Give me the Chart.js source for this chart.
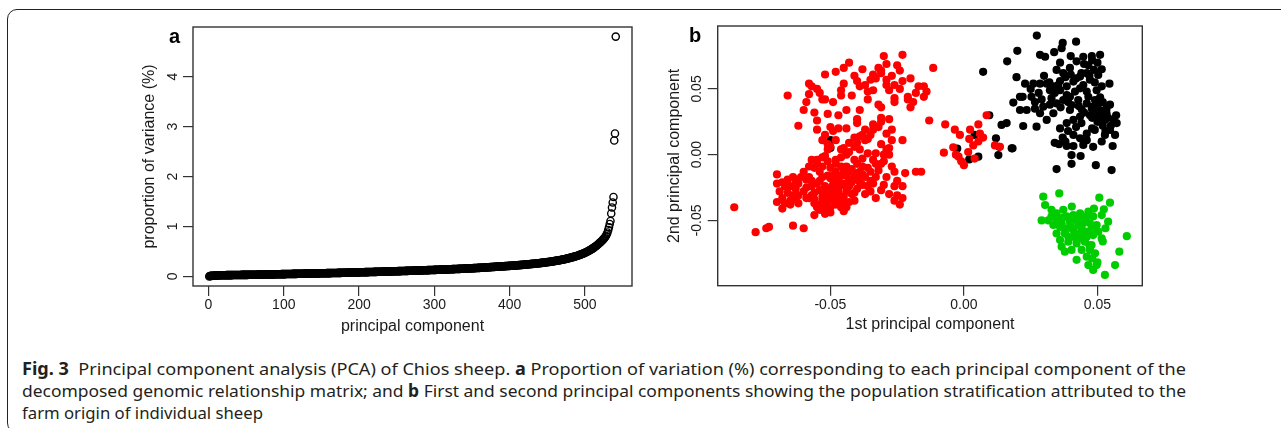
<!DOCTYPE html>
<html>
<head>
<meta charset="utf-8">
<script src="https://cdn.jsdelivr.net/npm/chart.js@4.4.1/dist/chart.umd.min.js"></script>
<style>
html,body{margin:0;padding:0;background:#fff;}
#wrap{position:relative;width:1281px;height:428px;overflow:hidden;background:#fff;}
#frame{position:absolute;left:7px;top:9px;width:1320px;height:424px;border:1.5px solid #222;border-radius:10px;box-sizing:border-box;}
canvas{position:absolute;top:0;}
#ca{left:0;}
#cb{left:640px;}
.plab{position:absolute;font-family:"Liberation Sans",Arial,sans-serif;font-weight:bold;font-size:20px;color:#000;line-height:20px;}
#caption{position:absolute;left:22px;top:358px;font-family:"Noto Sans",sans-serif;font-size:17px;color:#231f20;line-height:22px;}
.ln{white-space:nowrap;display:block;transform-origin:0 50%;width:max-content;}
</style>
</head>
<body>
<div id="wrap">
<div id="frame"></div>
<canvas id="ca" width="640" height="345"></canvas>
<canvas id="cb" width="520" height="345"></canvas>
<div class="plab" style="left:169px;top:26px;">a</div>
<div class="plab" style="left:689px;top:25px;">b</div>
<div id="caption">
<span class="ln" data-w="1164"><b>Fig. 3</b>&nbsp; Principal component analysis (PCA) of Chios sheep. <b>a</b> Proportion of variation (%) corresponding to each principal component of the</span>
<span class="ln" data-w="1164">decomposed genomic relationship matrix; and <b>b</b> First and second principal components showing the population stratification attributed to the</span>
<span class="ln" data-w="241">farm origin of individual sheep</span>
</div>
</div>
<script>
// ---------- Panel a: proportion of variance (%) per principal component ----------
const varianceProp = [
0.000,0.008,0.010,0.011,0.012,0.013,0.014,0.015,0.017,0.019,0.020,0.020,0.021,0.021,0.022,0.022,0.022,0.023,0.023,0.023,
0.024,0.024,0.024,0.025,0.025,0.025,0.025,0.026,0.026,0.026,0.026,0.027,0.027,0.027,0.027,0.028,0.028,0.028,0.028,0.029,
0.029,0.029,0.029,0.030,0.030,0.030,0.030,0.030,0.031,0.031,0.031,0.031,0.032,0.032,0.032,0.032,0.033,0.033,0.033,0.033,
0.034,0.034,0.034,0.034,0.035,0.035,0.035,0.035,0.036,0.036,0.036,0.036,0.037,0.037,0.037,0.038,0.038,0.038,0.039,0.039,
0.039,0.040,0.040,0.040,0.041,0.041,0.041,0.042,0.042,0.042,0.043,0.043,0.043,0.044,0.044,0.044,0.045,0.045,0.045,0.046,
0.046,0.046,0.047,0.047,0.047,0.048,0.048,0.048,0.049,0.049,0.049,0.050,0.050,0.050,0.051,0.051,0.051,0.052,0.052,0.052,
0.053,0.053,0.053,0.054,0.054,0.054,0.055,0.055,0.055,0.056,0.056,0.056,0.057,0.057,0.057,0.058,0.058,0.058,0.059,0.059,
0.059,0.060,0.060,0.060,0.061,0.061,0.061,0.062,0.062,0.062,0.063,0.063,0.063,0.064,0.064,0.064,0.065,0.065,0.065,0.066,
0.066,0.066,0.067,0.067,0.067,0.068,0.068,0.068,0.069,0.069,0.069,0.070,0.070,0.071,0.071,0.071,0.072,0.072,0.073,0.073,
0.073,0.074,0.074,0.075,0.075,0.075,0.076,0.076,0.077,0.077,0.077,0.078,0.078,0.079,0.079,0.080,0.080,0.080,0.081,0.081,
0.082,0.082,0.083,0.083,0.083,0.084,0.084,0.085,0.085,0.086,0.086,0.086,0.087,0.087,0.088,0.088,0.089,0.089,0.089,0.090,
0.090,0.091,0.091,0.092,0.092,0.092,0.093,0.093,0.094,0.094,0.095,0.095,0.096,0.096,0.096,0.097,0.097,0.098,0.098,0.099,
0.099,0.100,0.100,0.101,0.101,0.102,0.102,0.103,0.103,0.104,0.104,0.105,0.105,0.106,0.106,0.107,0.107,0.108,0.108,0.109,
0.109,0.110,0.110,0.111,0.111,0.112,0.112,0.113,0.113,0.114,0.114,0.115,0.115,0.116,0.116,0.117,0.117,0.118,0.118,0.119,
0.119,0.120,0.121,0.121,0.122,0.122,0.123,0.123,0.124,0.124,0.125,0.126,0.126,0.127,0.127,0.128,0.128,0.129,0.129,0.130,
0.131,0.131,0.132,0.132,0.133,0.134,0.134,0.135,0.135,0.136,0.137,0.137,0.138,0.138,0.139,0.140,0.140,0.141,0.141,0.142,
0.143,0.143,0.144,0.145,0.145,0.146,0.147,0.147,0.148,0.149,0.149,0.150,0.151,0.151,0.152,0.153,0.153,0.154,0.155,0.155,
0.156,0.157,0.158,0.158,0.159,0.160,0.161,0.161,0.162,0.163,0.164,0.165,0.165,0.166,0.167,0.168,0.169,0.170,0.170,0.171,
0.172,0.173,0.174,0.175,0.176,0.177,0.178,0.179,0.180,0.181,0.182,0.183,0.184,0.185,0.186,0.187,0.188,0.189,0.190,0.191,
0.192,0.193,0.194,0.195,0.196,0.197,0.198,0.199,0.200,0.201,0.202,0.203,0.204,0.205,0.206,0.207,0.208,0.209,0.210,0.211,
0.212,0.213,0.214,0.215,0.216,0.218,0.219,0.220,0.221,0.222,0.224,0.225,0.226,0.227,0.229,0.230,0.231,0.233,0.234,0.235,
0.237,0.238,0.239,0.241,0.242,0.244,0.245,0.247,0.248,0.250,0.251,0.253,0.254,0.256,0.258,0.259,0.261,0.263,0.264,0.266,
0.268,0.270,0.271,0.273,0.275,0.277,0.279,0.281,0.283,0.285,0.287,0.289,0.291,0.293,0.295,0.298,0.300,0.302,0.305,0.307,
0.310,0.312,0.315,0.317,0.320,0.323,0.326,0.329,0.332,0.335,0.338,0.341,0.344,0.348,0.351,0.355,0.358,0.362,0.366,0.370,
0.374,0.378,0.382,0.386,0.390,0.395,0.399,0.404,0.409,0.414,0.419,0.424,0.430,0.435,0.441,0.447,0.453,0.460,0.466,0.473,
0.480,0.487,0.495,0.503,0.511,0.519,0.528,0.537,0.546,0.556,0.566,0.576,0.587,0.598,0.610,0.622,0.635,0.648,0.662,0.676,
0.690,0.705,0.720,0.736,0.752,0.770,0.790,0.815,0.845,0.880,0.930,0.985,1.050,1.110,1.260,1.380,1.480,1.590,2.720,2.860,
4.800
];
const xTicksA = [0, 100, 200, 300, 400, 500];
const yTicksA = [0, 1, 2, 3, 4];

// ---------- Panel b: PC1 / PC2 per farm ----------
const farmRed = [
[-0.086,-0.040],[-0.078,-0.059],[-0.074,-0.056],[-0.073,-0.055],[-0.064,-0.054],[-0.060,-0.056],
[-0.066,0.045],[-0.062,0.022],[-0.060,0.034],[-0.059,0.040],[-0.058,0.054],[-0.057,0.052],[-0.056,0.032],[-0.054,0.047],
[-0.053,0.042],[-0.052,0.061],[-0.052,0.042],[-0.051,0.031],[-0.048,0.063],[-0.046,0.045],[-0.046,0.049],[-0.045,0.066],
[-0.043,0.070],[-0.044,0.034],[-0.040,0.056],[-0.039,0.052],[-0.042,0.045],[-0.040,0.024],[-0.037,0.053],[-0.035,0.057],
[-0.036,0.048],[-0.034,0.049],[-0.032,0.066],[-0.031,0.062],[-0.031,0.064],[-0.032,0.038],[-0.031,0.036],[-0.030,0.075],
[-0.029,0.057],[-0.029,0.053],[-0.028,0.049],[-0.026,0.043],[-0.026,0.040],[-0.025,0.068],[-0.023,0.076],[-0.023,0.056],
[-0.024,0.050],[-0.021,0.042],[-0.021,0.044],[-0.019,0.040],[-0.020,0.036],[-0.017,0.052],[-0.015,0.052],[-0.014,0.048],
[-0.015,0.044],[-0.0115,0.066],[-0.013,0.026],
[-0.027,0.011],[-0.028,0.005],[-0.027,0.019],[-0.029,0.016],[-0.023,0.011],[-0.031,0.028],[-0.031,0.025],[-0.032,0.021],
[-0.034,0.019],[-0.035,0.015],[-0.036,0.012],[-0.039,0.014],[-0.038,0.015],[-0.037,0.011],[-0.041,0.006],[-0.043,0.002],
[-0.044,0.000],[-0.047,0.020],[-0.049,0.018],[-0.052,0.015],[-0.050,0.021],[-0.055,0.019],[-0.053,0.011],[-0.051,0.008],
[-0.070,-0.015],[-0.070,-0.022],[-0.068,-0.021],[-0.069,-0.028],[-0.070,-0.036],[-0.068,-0.041],[-0.066,-0.019],[-0.065,-0.024],
[-0.064,-0.017],[-0.064,-0.031],[-0.065,-0.035],[-0.065,-0.038],[-0.066,-0.029],[-0.063,-0.026],[-0.062,-0.022],[-0.062,-0.031],
[-0.060,-0.013],[-0.059,-0.019],[-0.058,-0.017],[-0.058,-0.009],[-0.057,-0.004],[-0.056,-0.010],[-0.057,-0.024],[-0.056,-0.029],
[-0.058,-0.033],[-0.056,-0.037],[-0.055,-0.040],[-0.056,-0.046],[-0.054,-0.042],[-0.053,-0.038],[-0.052,-0.045],[-0.051,-0.042],
[-0.050,-0.040],[-0.051,-0.035],[-0.053,-0.032],[-0.054,-0.027],[-0.052,-0.024],[-0.050,-0.026],[-0.049,-0.027],[-0.047,-0.029],
[-0.048,-0.036],[-0.046,-0.034],[-0.045,-0.032],[-0.048,-0.021],[-0.046,-0.023],[-0.045,-0.022],[-0.043,-0.019],[-0.041,-0.017],
[-0.040,-0.014],[-0.043,-0.024],[-0.044,-0.028],[-0.046,-0.016],[-0.048,-0.013],[-0.050,-0.010],[-0.051,-0.016],[-0.053,-0.017],
[-0.055,-0.022],[-0.053,-0.009],[-0.055,-0.004],[-0.053,-0.002],[-0.051,0.004],[-0.050,0.006],[-0.048,0.011],[-0.045,0.005],
[-0.044,0.001],[-0.046,-0.002],[-0.048,-0.004],[-0.051,-0.005],[-0.041,-0.004],[-0.040,-0.007],[-0.038,-0.009],[-0.039,-0.013],
[-0.037,-0.017],[-0.035,-0.013],[-0.033,-0.007],[-0.033,-0.017],[-0.034,-0.022],[-0.035,-0.028],[-0.031,-0.027],[-0.030,-0.023],
[-0.029,-0.017],[-0.026,-0.013],[-0.026,-0.024],[-0.025,-0.031],[-0.026,-0.035],[-0.023,-0.033],[-0.023,-0.024],[-0.022,-0.014],
[-0.033,0.001],[-0.030,0.000],[-0.028,0.000],[-0.031,-0.007],[-0.036,0.001],[-0.038,-0.003],[-0.039,0.004],[-0.040,0.009],
[-0.044,-0.009],[-0.043,-0.013],[-0.046,-0.009],[-0.045,-0.013],[-0.049,-0.016],[-0.044,-0.040],[-0.045,-0.043],[-0.041,-0.029],
[-0.040,-0.026],[-0.038,-0.023],[-0.043,-0.036],[-0.018,-0.013],[-0.016,-0.013],
[-0.052,-0.030],[-0.050,-0.032],[-0.049,-0.034],[-0.047,-0.031],[-0.051,-0.028],[-0.053,-0.035],[-0.055,-0.038],[-0.048,-0.038],
[-0.046,-0.040],[-0.050,-0.044],[-0.053,-0.042],[-0.056,-0.034],[-0.049,-0.023],[-0.047,-0.019],[-0.044,-0.016],[-0.042,-0.021],
[-0.040,-0.019],[-0.038,-0.015],[-0.036,-0.010],[-0.034,-0.004],[-0.042,-0.011],[-0.048,-0.007],[-0.054,-0.013],[-0.057,-0.020],
[-0.060,-0.028],[-0.059,-0.033],[-0.062,-0.037],[-0.067,-0.024],[-0.068,-0.033],[-0.063,-0.020],[-0.037,-0.030],[-0.035,-0.020],
[-0.032,-0.012],[-0.030,-0.005],[-0.027,-0.009],[-0.029,0.004],[-0.031,0.008],[-0.025,-0.020],[-0.024,-0.038],[-0.028,-0.030],
[-0.033,-0.033],[-0.041,-0.035],[-0.055,-0.007],[-0.052,-0.001],[-0.046,0.004],[-0.043,0.009],[-0.041,0.013],[-0.037,0.019],
[-0.034,0.023],[-0.028,0.027],[-0.044,0.020],[-0.040,0.027],[-0.047,0.030],[-0.055,0.026],[-0.058,0.046],[-0.045,0.054],
[-0.041,0.060],[-0.038,0.065],[-0.034,0.061],[-0.027,0.060],[-0.024,0.064],[-0.020,0.058],[-0.018,0.047],[-0.036,0.042],
[-0.039,0.034],[-0.049,0.040],[-0.055,0.050],[-0.029,0.069],[-0.033,0.058],[-0.026,0.053],
[-0.054,-0.020],[-0.052,-0.036],[-0.049,-0.030],[-0.047,-0.026],[-0.045,-0.037],[-0.051,-0.038],[-0.057,-0.031],[-0.059,-0.025],
[-0.061,-0.017],[-0.063,-0.034],[-0.067,-0.037],[-0.044,-0.024],[-0.042,-0.030],[-0.039,-0.021],[-0.036,-0.024],[-0.050,-0.018],
[-0.007,0.023],[-0.0034,0.019],[-0.0015,0.015],[0.0023,0.019],[0.0054,0.023],[0.0085,0.030],[-0.0075,0.0015],[-0.004,0.0056],
[-0.002,-0.0015],[-0.001,-0.005],[0.000,-0.008],[0.0016,0.002],[0.0035,0.007],[0.0054,0.010],[0.0072,0.013],[0.0116,0.007],
[0.0135,0.006],[0.002,0.012],[0.004,-0.003],[-0.003,0.000],[0.006,0.016]
];
const farmBlack = [
[-0.050,0.011],[-0.050,0.005],
[-0.0025,0.0046],[0.002,-0.0036],[0.004,0.015],[0.0054,-0.0015],[0.0095,0.030],[0.012,0.0124],[0.0132,0.006],[0.0129,-0.0003],
[0.0179,0.0048],[0.0072,0.063],
[0.0273,0.0906],[0.037,0.085],[0.042,0.086],[0.0366,0.081],[0.0338,0.078],[0.020,0.079],[0.0285,0.076],[0.0304,0.0745],
[0.0162,0.071],[0.0447,0.0745],[0.0479,0.075],[0.051,0.076],[0.0516,0.065],[0.0545,0.054],[0.0422,0.071],[0.0397,0.066],
[0.0347,0.0645],[0.0372,0.062],[0.0466,0.068],[0.0487,0.0645],[0.0503,0.0607],[0.0197,0.059],[0.0229,0.054],[0.026,0.054],
[0.0285,0.054],[0.031,0.054],[0.0335,0.052],[0.036,0.049],[0.0385,0.052],[0.041,0.0556],[0.0435,0.0594],[0.046,0.062],
[0.0472,0.057],[0.0447,0.053],[0.0416,0.048],[0.0397,0.044],[0.0372,0.0416],[0.0347,0.039],[0.0322,0.038],[0.0297,0.0365],
[0.0266,0.035],[0.0235,0.034],[0.021,0.034],[0.0185,0.0396],[0.021,0.044],[0.0253,0.044],[0.0266,0.040],[0.0322,0.049],
[0.0353,0.053],[0.0385,0.0454],[0.0428,0.0416],[0.046,0.039],[0.0484,0.0365],[0.051,0.034],[0.0534,0.0315],[0.056,0.0264],
[0.0572,0.024],[0.0566,0.015],[0.0547,0.0188],[0.0557,0.0066],[0.0528,0.0264],[0.0503,0.029],[0.0472,0.030],[0.0435,0.029],
[0.041,0.0264],[0.0385,0.024],[0.036,0.020],[0.0335,0.0315],[0.031,0.0264],[0.0285,0.0315],[0.0272,0.0213],[0.0222,0.0218],
[0.016,0.024],[0.0141,0.0226],[0.0182,0.0048],[0.0356,0.008],[0.0385,0.0066],[0.041,0.0066],[0.0447,0.0074],[0.0484,0.006],
[0.0516,0.010],[0.0528,0.015],[0.049,0.0188],[0.046,0.016],[0.0435,0.0124],[0.041,0.015],[0.0397,0.034],[0.0441,0.0345],
[0.0466,0.044],[0.0491,0.0416],[0.051,0.0436],[0.0497,0.049],[0.0516,0.052],[0.046,0.048],[0.0435,0.0505],[0.0403,0.0378],
[0.0362,0.036],[0.0328,0.043],[0.0291,0.042],[0.0403,-0.0003],[0.0437,-0.001],[0.0347,-0.011],[0.0403,-0.007],[0.0494,-0.008],
[0.0553,-0.0117],[0.0503,0.039],[0.0479,0.035],[0.0534,0.035],[0.0547,0.038],
[0.036,0.056],[0.038,0.059],[0.040,0.061],[0.042,0.058],[0.044,0.062],[0.047,0.060],[0.049,0.055],[0.050,0.070],
[0.048,0.072],[0.045,0.069],[0.034,0.047],[0.039,0.040],[0.043,0.037],[0.045,0.032],[0.048,0.028],[0.050,0.025],
[0.052,0.022],[0.053,0.018],[0.055,0.022],[0.051,0.031],[0.049,0.033],[0.044,0.024],[0.042,0.021],[0.039,0.018],
[0.037,0.013],[0.034,0.009],[0.038,0.010],[0.046,0.011],[0.048,0.020],[0.052,0.040],[0.054,0.028],[0.057,0.030],
[0.030,0.060],[0.032,0.055],[0.036,0.070],[0.040,0.075],[0.025,0.050],[0.022,0.044],[0.028,0.047]
];
const farmGreen = [
[0.0297,-0.032],[0.0357,-0.0295],[0.0507,-0.0327],[0.0547,-0.0365],[0.0524,-0.0416],[0.0304,-0.0383],[0.0328,-0.042],[0.0291,-0.050],
[0.0316,-0.050],[0.0347,-0.0446],[0.0372,-0.042],[0.0404,-0.0395],[0.0435,-0.0446],[0.0466,-0.0434],[0.0484,-0.047],[0.0516,-0.046],
[0.0335,-0.0535],[0.0366,-0.0522],[0.0397,-0.051],[0.0422,-0.050],[0.0447,-0.0522],[0.0472,-0.0522],[0.0497,-0.0535],[0.0347,-0.060],
[0.0378,-0.060],[0.041,-0.0574],[0.0435,-0.060],[0.046,-0.0586],[0.0484,-0.0612],[0.0516,-0.0637],[0.036,-0.065],[0.0391,-0.0662],
[0.0422,-0.0675],[0.0453,-0.0662],[0.0478,-0.0688],[0.0378,-0.0738],[0.0403,-0.0725],[0.0422,-0.080],[0.046,-0.0776],[0.0472,-0.0725],
[0.0491,-0.075],[0.0466,-0.084],[0.0484,-0.0877],[0.0497,-0.084],[0.0528,-0.0915],[0.0566,-0.084],[0.0582,-0.0738],[0.061,-0.062],
[0.0385,-0.047],[0.041,-0.046],[0.0447,-0.0485],[0.0385,-0.056],[0.0479,-0.056],[0.0503,-0.0586],[0.0328,-0.047],[0.0347,-0.050],
[0.0432,-0.0637],[0.046,-0.0625],[0.041,-0.0625],[0.0366,-0.070],[0.0441,-0.0725],[0.0391,-0.0625],[0.0428,-0.0535],[0.046,-0.047],
[0.0487,-0.041],
[0.040,-0.055],[0.038,-0.058],[0.042,-0.062],[0.044,-0.056],[0.036,-0.055],[0.045,-0.065],[0.047,-0.069],[0.048,-0.079],
[0.050,-0.082],[0.052,-0.066],[0.053,-0.056],[0.054,-0.051],[0.034,-0.045],[0.037,-0.048],[0.043,-0.047]
];
const ticksB = [-0.05, 0, 0.05];

// ---------- shared helpers ----------
const FONT = '"Liberation Sans", Arial, sans-serif';
const TXT = '#1a1a1a';
const boxPlugin = {
  id: 'boxFrame',
  afterDraw(chart) {
    const a = chart.chartArea, c = chart.ctx;
    c.save(); c.strokeStyle = '#333'; c.lineWidth = 1.4;
    c.strokeRect(a.left, a.top, a.right - a.left, a.bottom - a.top);
    c.restore();
  }
};
const rotYPlugin = {
  id: 'rotY',
  afterDraw(chart, args, o) {
    const s = chart.scales.y, c = chart.ctx;
    c.save(); c.font = o.font; c.fillStyle = TXT; c.textAlign = 'center'; c.textBaseline = 'middle';
    s.ticks.forEach(t => {
      const y = s.getPixelForValue(t.value);
      c.save(); c.translate(o.x, y); c.rotate(-Math.PI / 2); c.fillText(o.fmt(t.value), 0, 0); c.restore();
    });
    c.restore();
  }
};

function axisCommon(ticksArr, fmt, size) {
  return {
    type: 'linear',
    afterBuildTicks: s => { s.ticks = ticksArr.map(v => ({ value: v })); },
    grid: { display: true, drawOnChartArea: false, drawTicks: true, tickLength: 10, color: '#333', lineWidth: 1.2 },
    border: { display: false },
    ticks: { font: { family: FONT, size: size }, color: TXT, padding: 1, maxRotation: 0, minRotation: 0, autoSkip: false, callback: v => fmt(v) }
  };
}

// ---------- chart a ----------
const ax = axisCommon(xTicksA, v => String(v), 14);
Object.assign(ax, {
  min: -20.6, max: 562.6,
  afterFit: s => { s.height = 345 - 286; },
  title: { display: true, text: 'principal component', color: TXT, font: { family: FONT, size: 16 }, padding: { top: 0, bottom: 8.7 } }
});
const ay = axisCommon(yTicksA, v => String(v), 14);
ay.ticks.display = false;
Object.assign(ay, {
  min: -0.192, max: 4.992,
  afterFit: s => { s.width = 193; },
  title: { display: true, text: 'proportion of variance (%)', color: TXT, font: { family: FONT, size: 16 }, padding: { top: 140.4, bottom: 0 } }
});
new Chart(document.getElementById('ca'), {
  type: 'scatter',
  data: { datasets: [{
    data: varianceProp.map((v, i) => ({ x: i + 1, y: v })),
    pointRadius: 3.6, pointHoverRadius: 3.6, pointBorderWidth: 1.4,
    pointBorderColor: '#000', pointBackgroundColor: 'rgba(0,0,0,0)'
  }] },
  options: {
    responsive: false, animation: false, devicePixelRatio: 1,
    layout: { padding: { left: 0, top: 27, right: 8, bottom: 0 } },
    plugins: { legend: { display: false }, tooltip: { enabled: false },
      rotY: { x: 173, font: '14px ' + FONT, fmt: v => String(v) } },
    scales: { x: ax, y: ay }
  },
  plugins: [boxPlugin, rotYPlugin]
});

// ---------- chart b ----------
const f2 = v => v.toFixed(2);
const bx = axisCommon(ticksB, f2, 14);
Object.assign(bx, {
  min: -0.0922, max: 0.0668,
  afterFit: s => { s.height = 345 - 285.7; },
  title: { display: true, text: '1st principal component', color: TXT, font: { family: FONT, size: 16 }, padding: { top: 0, bottom: 10.4 } }
});
const by = axisCommon(ticksB, f2, 14);
by.ticks.display = false;
Object.assign(by, {
  min: -0.0997, max: 0.0979,
  afterFit: s => { s.width = 77.7; },
  title: { display: true, text: '2nd principal component', color: TXT, font: { family: FONT, size: 16 }, padding: { top: 25.4, bottom: 0 } }
});
function ds(arr, col) {
  return { data: arr.map(p => ({ x: p[0], y: p[1] })), pointRadius: 4.1, pointHoverRadius: 4.1, pointBorderWidth: 0,
    pointBackgroundColor: col, pointBorderColor: col };
}
new Chart(document.getElementById('cb'), {
  type: 'scatter',
  data: { datasets: [ds(farmRed, '#ff0000'), ds(farmBlack, '#000000'), ds(farmGreen, '#00cd00')] },
  options: {
    responsive: false, animation: false, devicePixelRatio: 1,
    layout: { padding: { left: 0, top: 26, right: 17.7, bottom: 0 } },
    plugins: { legend: { display: false }, tooltip: { enabled: false },
      rotY: { x: 57, font: '14px ' + FONT, fmt: f2 } },
    scales: { x: bx, y: by }
  },
  plugins: [boxPlugin, rotYPlugin]
});

// ---------- caption line fitting ----------
document.querySelectorAll('.ln').forEach(el => {
  const target = parseFloat(el.dataset.w);
  const w = el.getBoundingClientRect().width;
  if (w > 0) el.style.transform = 'scaleX(' + (target / w) + ')';
});
</script>
</body>
</html>
